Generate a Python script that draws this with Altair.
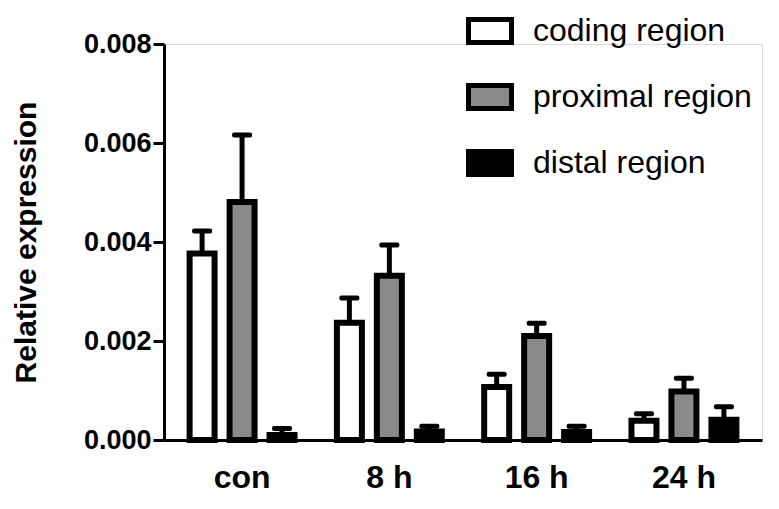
import altair as alt
import pandas as pd

categories = ["con", "8 h", "16 h", "24 h"]
series = ["coding region", "proximal region", "distal region"]
coding_mean = [0.00377, 0.00237, 0.00107, 0.00039]
coding_err = [0.00045, 0.00050, 0.00026, 0.00014]
proximal_mean = [0.00481, 0.00332, 0.00210, 0.00098]
proximal_err = [0.00135, 0.00062, 0.00026, 0.00027]
distal_mean = [0.00010, 0.00017, 0.00016, 0.00041]
distal_err = [0.00013, 0.00011, 0.00012, 0.00026]
fills = ["white", "#8a8a8a", "black"]
y_ticks = [0.0, 0.002, 0.004, 0.006, 0.008]

rows = []
for s, means, errs in zip(series, [coding_mean, proximal_mean, distal_mean],
                          [coding_err, proximal_err, distal_err]):
    for c, m, e in zip(categories, means, errs):
        rows.append({"group": c, "series": s, "mean": m, "upper": m + e})
df = pd.DataFrame(rows)

FONT = "Liberation Sans"

x_enc = alt.X("group:N", sort=categories,
              scale=alt.Scale(paddingInner=0, paddingOuter=0.03),
              axis=alt.Axis(title=None, ticks=False, labelAngle=0, labelFont=FONT,
                            labelFontWeight="bold", labelFontSize=32, labelColor="black",
                            labelPadding=22, domainColor="black", domainWidth=3))
xo_enc = alt.XOffset("series:N", sort=series,
                     scale=alt.Scale(paddingInner=0.375, paddingOuter=0.53))

base = alt.Chart(df)

bars = base.mark_bar(stroke="black", strokeWidth=6, strokeJoin="miter").encode(
    x=x_enc,
    xOffset=xo_enc,
    y=alt.Y("mean:Q",
            scale=alt.Scale(domain=[0, 0.008], nice=False),
            axis=alt.Axis(values=y_ticks, format=".3f", title="Relative expression",
                          labelFont=FONT, labelFontWeight="bold", labelFontSize=27,
                          labelColor="black", labelPadding=2,
                          tickSize=11, tickWidth=3, tickColor="black",
                          domainColor="black", domainWidth=3, grid=False,
                          titleFont=FONT, titleFontWeight="bold", titleFontSize=30,
                          titleColor="black", titleAngle=-90, titleAlign="center",
                          titleBaseline="bottom", titleX=-123, titleY=198)),
    fill=alt.Fill("series:N", sort=series,
                  scale=alt.Scale(domain=series, range=fills),
                  legend=alt.Legend(title=None, orient="none", legendX=302, legendY=-37,
                                    symbolType="M-1,-0.535H1V0.535H-1Z", symbolSize=1849,
                                    symbolStrokeColor="black", symbolStrokeWidth=5,
                                    symbolOpacity=1, labelLimit=400,
                                    labelFont=FONT, labelFontSize=32, labelColor="black",
                                    labelOffset=19, rowPadding=20, padding=0)),
)

stems = base.mark_rule(color="black", strokeWidth=5).encode(
    x=x_enc, xOffset=xo_enc, y="mean:Q", y2="upper:Q")

caps = base.mark_tick(color="black", thickness=5, size=20, cornerRadius=2, opacity=1).encode(
    x=x_enc, xOffset=xo_enc, y="upper:Q")

chart = alt.layer(stems, bars, caps).properties(
    width=598, height=396,
    autosize=alt.AutoSizeParams(type="none"),
    padding={"left": 156, "top": 36, "right": 5, "bottom": 55},
).configure_view(stroke=None).configure(background="white")

chart.save("out.html", embed_options={"renderer": "svg", "actions": False})
